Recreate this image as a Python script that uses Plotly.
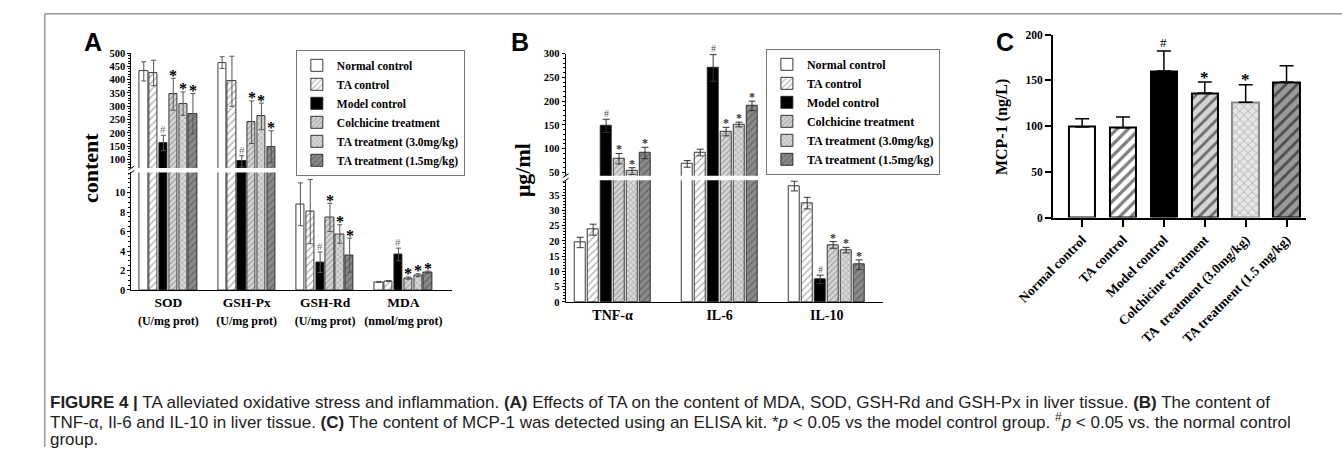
import plotly.graph_objects as go

W, H = 1342, 453

# ---------------- data ----------------
SERIES = ["Normal control", "TA control", "Model control", "Colchicine treatment",
          "TA treatment (3.0mg/kg)", "TA treatment (1.5mg/kg)"]

# Panel A
A_GROUPS = ["SOD", "GSH-Px", "GSH-Rd", "MDA"]
A_UNITS = ["(U/mg prot)", "(U/mg prot)", "(U/mg prot)", "(nmol/mg prot)"]
A_NORMAL = [431, 464, 8.8, 0.82]
A_TA = [425, 394, 8.05, 0.92]
A_MODEL = [162, 93, 2.85, 3.65]
A_COLCH = [345, 240, 7.45, 1.22]
A_TA3 = [310, 262, 5.75, 1.52]
A_TA15 = [272, 148, 3.58, 1.82]
A_NORMAL_ERR = [36, 22, 2.2, 0.05]
A_TA_ERR = [48, 94, 3.3, 0.05]
A_MODEL_ERR = [29, 21, 1.05, 0.65]
A_COLCH_ERR = [60, 80, 1.45, 0.12]
A_TA3_ERR = [44, 50, 0.95, 0.15]
A_TA15_ERR = [76, 60, 1.75, 0.12]
A_SIG = [["", "", "", ""], ["", "", "", ""], ["#", "#", "#", "#"],
         ["*", "*", "*", "*"], ["*", "*", "*", "*"], ["*", "*", "*", "*"]]
A_LOW_TICKS = [0, 2, 4, 6, 8, 10]
A_UP_TICKS = [100, 150, 200, 250, 300, 350, 400, 450, 500]

# Panel B
B_GROUPS = ["TNF-α", "IL-6", "IL-10"]
B_NORMAL = [19.5, 68, 38.0]
B_TA = [23.7, 92, 32.4]
B_MODEL = [148, 270, 7.4]
B_COLCH = [79, 136, 18.7]
B_TA3 = [53, 151, 17.0]
B_TA15 = [91, 190, 12.2]
B_NORMAL_ERR = [1.7, 7, 1.6]
B_TA_ERR = [1.8, 7, 1.9]
B_MODEL_ERR = [14, 28, 1.4]
B_COLCH_ERR = [11, 9, 1.1]
B_TA3_ERR = [7, 5, 0.9]
B_TA15_ERR = [12, 10, 1.6]
B_SIG = [["", "", ""], ["", "", ""], ["#", "#", "#"],
         ["*", "*", "*"], ["*", "*", "*"], ["*", "*", "*"]]
B_LOW_TICKS = [0, 5, 10, 15, 20, 25, 30, 35]
B_UP_TICKS = [50, 100, 150, 200, 250, 300]

# Panel C
C_LABELS = ["Normal control", "TA control", "Model control", "Colchicine treatment",
            "TA  treatment (3.0mg/kg)", "TA treatment (1.5 mg/kg)"]
C_VALUES = [99, 98, 160, 136, 126, 148]
C_ERR = [9, 12, 22, 12, 19, 18]
C_SIG = ["", "", "#", "*", "*", ""]
C_TICKS = [0, 50, 100, 150, 200]

CAPTION = [
    "<b>FIGURE 4 |</b> TA alleviated oxidative stress and inflammation. <b>(A)</b> Effects of TA on the content of MDA, SOD, GSH-Rd and GSH-Px in liver tissue. <b>(B)</b> The content of",
    "TNF-α, Il-6 and IL-10 in liver tissue. <b>(C)</b> The content of MCP-1 was detected using an ELISA kit. *<i>p</i> &lt; 0.05 vs the model control group. <sup>#</sup><i>p</i> &lt; 0.05 vs. the normal control",
    "group.",
]


# ---------------- helpers ----------------
def X(px):
    return px / W


def Y(py):
    return 1 - py / H


SERIF = "Liberation Serif"
SANS = "Liberation Sans"

STYLES = [
    dict(color="white", pattern=dict(shape="")),
    dict(color="white", pattern=dict(shape="/", fgcolor="#555", bgcolor="white", size=5, solidity=0.25, fillmode="overlay")),
    dict(color="black", pattern=dict(shape="")),
    dict(color="#d6d6d6", pattern=dict(shape="/", fgcolor="#6a6a6a", bgcolor="#d6d6d6", size=4, solidity=0.3, fillmode="overlay")),
    dict(color="#cfcfcf", pattern=dict(shape="x", fgcolor="#6a6a6a", bgcolor="#d8d8d8", size=4, solidity=0.3, fillmode="overlay")),
    dict(color="#8a8a8a", pattern=dict(shape="/", fgcolor="#4a4a4a", bgcolor="#8a8a8a", size=5, solidity=0.3, fillmode="overlay")),
]

fig = go.Figure()


def broken_panel(values, errs, sigs, low, up, low_max, step, width, legend, err_color,
                 err_w, star_font, hash_font, star_shift, hash_shift):
    ngroups = len(values[0])
    for i in range(6):
        xs = [g + (i - 2.5) * step for g in range(ngroups)]
        st = STYLES[i]
        for (xa, ya), show in ((low, True), (up, False)):
            fig.add_trace(go.Bar(
                x=xs, y=values[i], width=width, xaxis=xa, yaxis=ya,
                name=SERIES[i], legend=legend, showlegend=show,
                marker=dict(color=st["color"], pattern=st["pattern"],
                            line=dict(color="#222", width=0.9)),
                error_y=dict(type="data", array=errs[i], symmetric=True,
                             color=err_color, thickness=1, width=err_w),
                hoverinfo="skip",
            ))
        for g, mark in enumerate(sigs[i]):
            if not mark:
                continue
            top = values[i][g] + errs[i][g]
            xa, ya = low if top <= low_max else up
            fig.add_annotation(
                x=xs[g], y=top, xref=xa, yref=ya, text=mark, showarrow=False,
                yanchor="middle", yshift=star_shift if mark == "*" else hash_shift,
                font=star_font if mark == "*" else hash_font)


# Panel A
A_VALUES = [A_NORMAL, A_TA, A_MODEL, A_COLCH, A_TA3, A_TA15]
A_ERRS = [A_NORMAL_ERR, A_TA_ERR, A_MODEL_ERR, A_COLCH_ERR, A_TA3_ERR, A_TA15_ERR]
A_LOW_MAX = 12.07
broken_panel(A_VALUES, A_ERRS, A_SIG, ("x", "y"), ("x2", "y2"), A_LOW_MAX,
             0.1255, 0.106, "legend", "#555", 2.5,
             dict(family=SERIF, size=16, color="black", weight="bold"),
             dict(family=SERIF, size=11, color="#777"), 3, 6)

# Panel B
B_VALUES = [B_NORMAL, B_TA, B_MODEL, B_COLCH, B_TA3, B_TA15]
B_ERRS = [B_NORMAL_ERR, B_TA_ERR, B_MODEL_ERR, B_COLCH_ERR, B_TA3_ERR, B_TA15_ERR]
B_LOW_MAX = 39.9
broken_panel(B_VALUES, B_ERRS, B_SIG, ("x3", "y3"), ("x4", "y4"), B_LOW_MAX,
             0.121, 0.1, "legend2", "#333", 3.5,
             dict(family=SERIF, size=12, color="#333", weight="bold"),
             dict(family=SERIF, size=10, color="#555"), 4, 6)

# Panel C
C_STYLES = [
    dict(color="white", line="black", pattern=dict(shape="")),
    dict(color="white", line="black", pattern=dict(shape="/", fgcolor="black", bgcolor="white", size=8, solidity=0.4, fillmode="overlay")),
    dict(color="black", line="black", pattern=dict(shape="")),
    dict(color="#d4d4d4", line="black", pattern=dict(shape="/", fgcolor="black", bgcolor="#d4d4d4", size=8, solidity=0.35, fillmode="overlay")),
    dict(color="#e6e6e6", line="#888", pattern=dict(shape="x", fgcolor="#9a9a9a", bgcolor="#e6e6e6", size=6, solidity=0.35, fillmode="overlay")),
    dict(color="#9a9a9a", line="black", pattern=dict(shape="/", fgcolor="black", bgcolor="#9a9a9a", size=8, solidity=0.35, fillmode="overlay")),
]
C_X = list(range(len(C_VALUES)))
for i in range(len(C_VALUES)):
    st = C_STYLES[i]
    fig.add_trace(go.Bar(
        x=[C_X[i]], y=[C_VALUES[i]], width=0.65, xaxis="x5", yaxis="y5",
        showlegend=False,
        marker=dict(color=st["color"], pattern=st["pattern"], line=dict(color=st["line"], width=2)),
        error_y=dict(type="data", array=[C_ERR[i]], symmetric=False, arrayminus=[0],
                     color="black", thickness=1.5, width=7),
        hoverinfo="skip",
    ))
    if C_SIG[i]:
        mark = C_SIG[i]
        fig.add_annotation(
            x=C_X[i], y=C_VALUES[i] + C_ERR[i], xref="x5", yref="y5", text=mark,
            showarrow=False, yanchor="middle", yshift=5 if mark == "*" else 8,
            font=dict(family=SERIF, size=17 if mark == "*" else 13, color="black",
                      weight="bold" if mark == "*" else "normal"))

# ---------------- axes ----------------
tickfont_A = dict(family=SERIF, size=10.5, color="black", weight="bold")
base_y = dict(showline=True, linecolor="black", linewidth=1, ticks="outside", ticklen=3,
              tickcolor="black", showgrid=False, zeroline=False, fixedrange=True)
hidden_x = dict(visible=False, showgrid=False, zeroline=False, fixedrange=True)

A_XRANGE = [-0.472, 3.615]
B_XRANGE = [-0.438, 2.523]

layout = dict(
    width=W, height=H, margin=dict(l=0, r=0, t=0, b=0),
    paper_bgcolor="white", plot_bgcolor="rgba(0,0,0,0)",
    barmode="overlay", bargap=0,
    # Panel A
    xaxis=dict(domain=[X(98), X(427)], range=A_XRANGE, anchor="y", showline=True,
               linecolor="black", linewidth=1, ticks="", showgrid=False, zeroline=False,
               tickvals=list(range(len(A_GROUPS))),
               ticktext=[f"{g}<br><span style='font-size:12px'>{u}</span>" for g, u in zip(A_GROUPS, A_UNITS)],
               tickfont=dict(family=SERIF, size=13.5, color="black", weight="bold"),
               fixedrange=True),
    xaxis2=dict(domain=[X(98), X(427)], range=A_XRANGE, anchor="y2", **hidden_x),
    yaxis=dict(domain=[Y(291.7), Y(171)], range=[0, A_LOW_MAX], anchor="x",
               tickvals=A_LOW_TICKS, tickfont=tickfont_A,
               minor=dict(ticks="outside", ticklen=2, dtick=0.5, tick0=0, tickcolor="black", showgrid=False),
               **base_y),
    yaxis2=dict(domain=[Y(166.5), Y(48.3)], range=[67.8, 500], anchor="x2",
                tickvals=A_UP_TICKS, tickfont=tickfont_A,
                minor=dict(ticks="outside", ticklen=2, dtick=10, tick0=0, tickcolor="black", showgrid=False),
                **base_y),
    # Panel B
    xaxis3=dict(domain=[X(544.3), X(870)], range=B_XRANGE, anchor="y3", showline=True,
                linecolor="black", linewidth=1.2, ticks="", showgrid=False, zeroline=False,
                tickvals=list(range(len(B_GROUPS))), ticktext=B_GROUPS,
                tickfont=dict(family=SERIF, size=14, color="black", weight="bold"),
                fixedrange=True),
    xaxis4=dict(domain=[X(544.3), X(870)], range=B_XRANGE, anchor="y4", **hidden_x),
    yaxis3=dict(domain=[Y(304), Y(179)], range=[0, B_LOW_MAX], anchor="x3",
                tickvals=B_LOW_TICKS, tickfont=tickfont_A,
                minor=dict(ticks="outside", ticklen=2, dtick=1, tick0=0, tickcolor="black", showgrid=False),
                **base_y),
    yaxis4=dict(domain=[Y(174.3), Y(49)], range=[43.2, 300], anchor="x4",
                tickvals=B_UP_TICKS, tickfont=tickfont_A,
                minor=dict(ticks="outside", ticklen=2, dtick=10, tick0=0, tickcolor="black", showgrid=False),
                **base_y),
    # Panel C
    xaxis5=dict(domain=[X(1045), X(1305)], range=[-0.714, 5.476], anchor="y5",
                showline=True, linecolor="black", linewidth=2, ticks="outside", ticklen=7,
                tickwidth=2, tickcolor="black", tickvals=C_X, ticktext=C_LABELS, tickangle=-45,
                tickfont=dict(family=SERIF, size=13.5, color="black", weight="bold"),
                showgrid=False, zeroline=False, fixedrange=True),
    yaxis5=dict(domain=[Y(217.3), Y(29.3)], range=[0, 200], anchor="x5",
                showline=True, linecolor="black", linewidth=2, ticks="outside", ticklen=6,
                tickwidth=2, tickcolor="black", tickvals=C_TICKS,
                tickfont=dict(family=SERIF, size=11.5, color="black", weight="bold"),
                showgrid=False, zeroline=False, fixedrange=True),
    legend=dict(x=X(267), y=Y(45), xanchor="left", yanchor="top", bgcolor="white",
                bordercolor="#777", borderwidth=1,
                font=dict(family=SERIF, size=11.5, color="black", weight="bold"),
                traceorder="normal", itemclick=False, itemdoubleclick=False),
    legend2=dict(x=X(750), y=Y(44), xanchor="left", yanchor="top", bgcolor="white",
                 bordercolor="#777", borderwidth=1,
                 font=dict(family=SERIF, size=12, color="black", weight="bold"),
                 traceorder="normal", itemclick=False, itemdoubleclick=False),
    showlegend=True,
)
fig.update_layout(**layout)

# ---------------- text: panel letters, axis titles, caption ----------------
texts = [
    ("A", 59, 37, dict(family=SANS, size=25, color="black", weight="bold"), 0),
    ("B", 497, 37, dict(family=SANS, size=25, color="black", weight="bold"), 0),
    ("C", 996, 37, dict(family=SANS, size=25, color="black", weight="bold"), 0),
    ("content", 56, 166, dict(family=SERIF, size=22, color="black", weight="bold"), -90),
    ("μg/ml", 500, 169, dict(family=SERIF, size=22, color="black", weight="bold"), -90),
    ("MCP-1 (ng/L)", 992, 124, dict(family=SERIF, size=16, color="black", weight="bold"), -90),
]
for t, px, py, f, ang in texts:
    fig.add_annotation(x=X(px), y=Y(py), xref="paper", yref="paper", text=t,
                       showarrow=False, xanchor="center", yanchor="middle",
                       textangle=ang, font=f)

for k, line in enumerate(CAPTION):
    fig.add_annotation(x=X(12), y=Y(407 + 19 * k), xref="paper", yref="paper", text=line,
                       showarrow=False, xanchor="left", yanchor="middle", align="left",
                       font=dict(family=SANS, size=17, color="#222"))

# figure frame (top and left rule)
fig.add_shape(type="line", xref="paper", yref="paper", x0=X(9), x1=1, y0=Y(8), y1=Y(8),
              line=dict(color="#999", width=1.5))
fig.add_shape(type="line", xref="paper", yref="paper", x0=X(9), x1=X(9), y0=Y(8), y1=0,
              line=dict(color="#999", width=1.5))

# axis-break marks
for ax_x, y_low, y_up in ((98, 171, 166.5), (544.3, 179, 174.3)):
    for yy in (y_up, y_low):
        fig.add_shape(type="line", xref="paper", yref="paper",
                      x0=X(ax_x - 3), x1=X(ax_x + 3), y0=Y(yy + 2), y1=Y(yy - 2),
                      line=dict(color="black", width=1))

fig.write_html("out.html", config={"displayModeBar": False},
               post_script="document.body.style.margin='0px';")
